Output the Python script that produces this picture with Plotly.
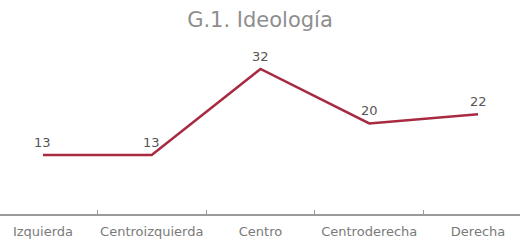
import plotly.graph_objects as go

categories = ["Izquierda", "Centroizquierda", "Centro", "Centroderecha", "Derecha"]
values = [13, 13, 32, 20, 22]
title_text = "G.1. Ideología"

fig = go.Figure()
fig.add_trace(go.Scatter(
    x=categories, y=values,
    mode="lines",
    line=dict(color="#a82a40", width=2.5),
    cliponaxis=False,
    hoverinfo="skip",
))

for c, v in zip(categories, values):
    fig.add_annotation(x=c, y=v, text=str(v), showarrow=False,
                       yanchor="bottom", yshift=3,
                       font=dict(family="DejaVu Sans", size=13, color="#555555"))

fig.update_layout(
    width=520, height=244,
    margin=dict(l=0, r=0, t=40, b=30),
    paper_bgcolor="white", plot_bgcolor="white",
    showlegend=False,
    title=dict(text=title_text, x=0.5, xanchor="center", y=0.918, yanchor="middle",
               font=dict(family="DejaVu Sans", size=21, color="#8e8e8e")),
    xaxis=dict(type="category", range=[-0.395, 4.386], automargin=False,
               showline=True, linecolor="#9a9a9a", linewidth=1.5,
               ticks="inside", ticklen=4, tickcolor="#9a9a9a", tickson="boundaries",
               showgrid=False, zeroline=False, tickangle=0,
               tickfont=dict(family="DejaVu Sans", size=13, color="#7a7a7a"),
               ticklabelstandoff=5),
    yaxis=dict(range=[0, 38.4], visible=False, showgrid=False, zeroline=False,
               automargin=False),
)

fig.write_html("out.html", config={"displayModeBar": False},
               post_script="document.body.style.margin='0';document.body.style.overflow='hidden';")
